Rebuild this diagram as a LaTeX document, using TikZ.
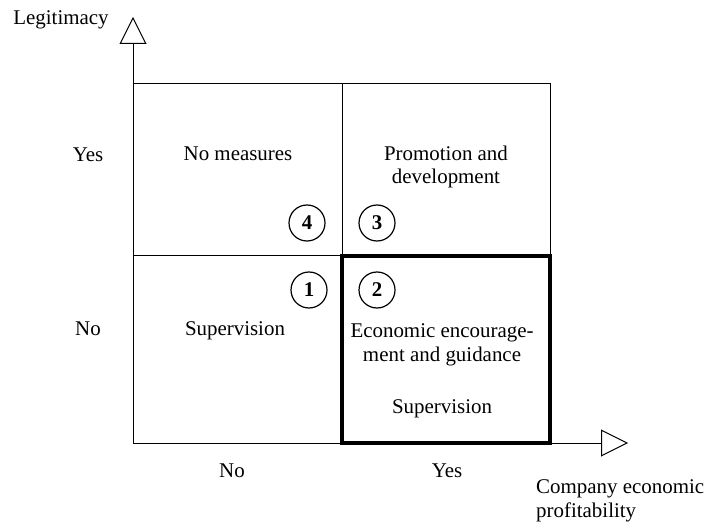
\documentclass[tikz,border=0pt]{standalone}
\usepackage{fontspec}
\setmainfont{Liberation Serif}
\usetikzlibrary{arrows.meta}

\tikzstyle{lbl} = [font=\fontsize{21}{24}\selectfont, inner sep=0pt]
\tikzstyle{cell} = [lbl, align=center]
\tikzstyle{num} = [circle, draw, line width=1.2bp, minimum size=36bp, inner sep=0pt, font=\fontsize{21}{24}\selectfont\bfseries]
\tikzstyle{axis} = [line width=1bp, -{Triangle[open, length=27bp, width=27bp]}]
\tikzstyle{grid} = [line width=1bp]
\tikzstyle{bold} = [line width=3.5bp]

\begin{document}
\begin{tikzpicture}[x=1bp, y=-1bp]
  \useasboundingbox (0,0) rectangle (711,524);
  % axes
  \coordinate (o) at (133,443);
  \coordinate (ytop) at (133,17);
  \coordinate (xend) at (628,443);
  \draw[axis] (o) -- (ytop);
  \draw[axis] (o) -- (xend);
  % quadrants
  \draw[grid] (133,84) -- (550,84) -- (550,256);
  \draw[grid] (133,256) -- (342,256);
  \draw[grid] (342,84) -- (342,256);
  \draw[bold] (342,256) rectangle (550,443);
  % axis titles
  \node[lbl, anchor=base] (ytitle) at (61,25) {Legitimacy};
  \node[lbl, anchor=west, align=left] (xtitle) at (536,501) {Company economic\\profitability};
  % axis values
  \node[lbl] (yyes) at (88,155) {Yes};
  \node[lbl] (yno) at (88,329) {No};
  \node[lbl] (xno) at (232,471) {No};
  \node[lbl] (xyes) at (447,471) {Yes};
  % cells
  \node[cell] (c4) at (238,154) {No measures};
  \node[cell] (c3) at (446,167) {Promotion and\\development};
  \node[cell] (c1) at (235,331) {Supervision};
  \node[cell] (c2) at (442,345) {Economic encourage-\\ment and guidance};
  \node[cell] (c2b) at (442,409) {Supervision};
  % numbers
  \node[num] (n4) at (307,223) {4};
  \node[num] (n3) at (377,223) {3};
  \node[num] (n1) at (309,290) {1};
  \node[num] (n2) at (377,290) {2};
\end{tikzpicture}
\end{document}
